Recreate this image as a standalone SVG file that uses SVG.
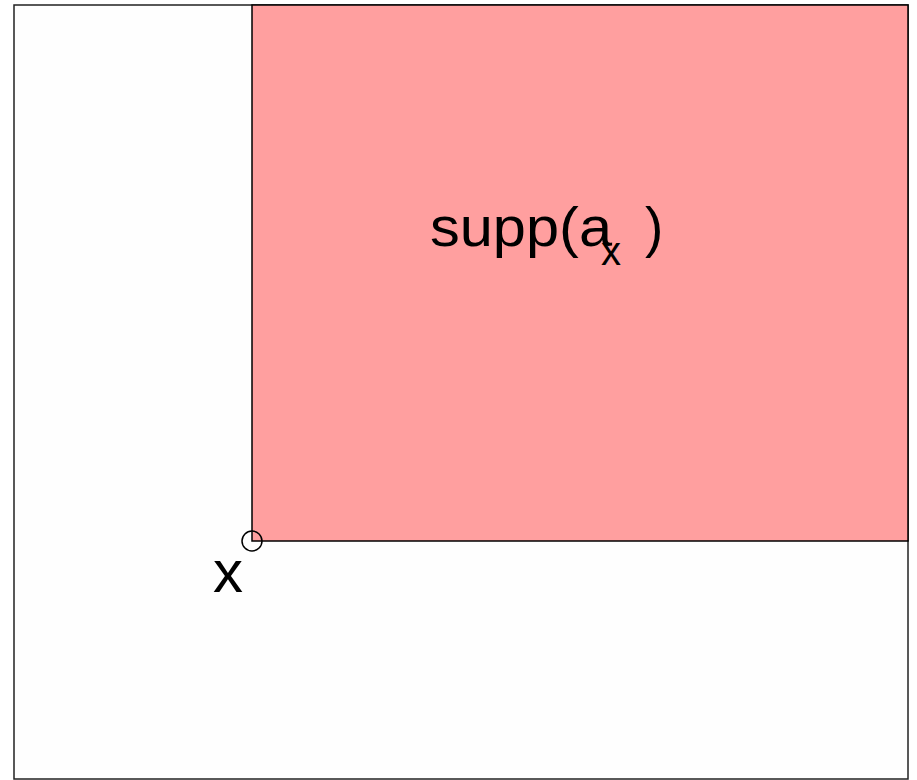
<svg xmlns="http://www.w3.org/2000/svg" width="917" height="780" viewBox="0 0 917 780">
<style>
.t{font-family:"Liberation Sans",Arial,sans-serif;fill:#000}
</style>
<rect width="917" height="780" fill="#fff"/>
<g id="frame"><rect x="14" y="5" width="894" height="774" fill="#fefefe" stroke="#222" stroke-width="1.5"/></g>
<g id="support"><rect x="252" y="5" width="656" height="536" fill="#ff9f9f" stroke="#000" stroke-width="1.5"/>
<text class="t" x="430" y="246" font-size="55" textLength="182" lengthAdjust="spacingAndGlyphs">supp(a</text>
<text class="t" x="601" y="265" font-size="40">x</text>
<text class="t" x="645" y="246" font-size="55">)</text>
</g>
<g id="point"><circle cx="252" cy="541" r="10" fill="none" stroke="#000" stroke-width="1.5"/>
<text class="t" x="213" y="592" font-size="60">x</text></g>
</svg>
